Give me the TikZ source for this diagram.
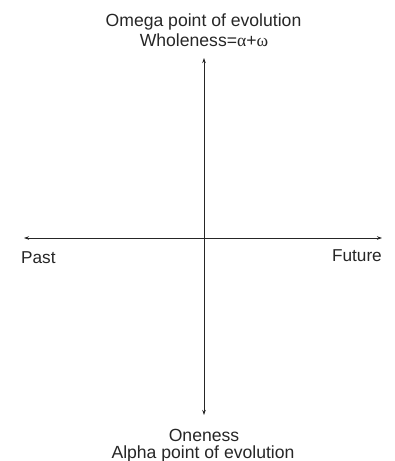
\documentclass[tikz,border=0pt]{standalone}
\usepackage{fontspec}
\setmainfont{Liberation Sans}
\newfontfamily\grkfont{Liberation Serif}
\usetikzlibrary{positioning, arrows.meta}

\begin{document}
\begin{tikzpicture}[
    x=1pt, y=-1pt,
    axis/.style={{Stealth[length=5pt, width=3.5pt]}-{Stealth[length=5pt, width=3.5pt]}, line width=0.8pt, draw=black!85},
    label/.style={font=\fontsize{17.6}{20}\selectfont, text=black!85, inner sep=0pt, anchor=base},
    side/.style={label, font=\fontsize{17.2}{20}\selectfont}
]
\useasboundingbox (0,0) rectangle (395,461);

% Axis end points
\coordinate (top) at (204,58);
\coordinate (bottom) at (204,415);
\coordinate (left) at (24,238);
\coordinate (right) at (382,238);

% Axes
\draw[axis] (bottom) -- (top);
\draw[axis] (left) -- (right);

% Labels
\node[label] (omega) at (203.5,26.5) {Omega point of evolution};
\node[label] (wholeness) at (204,46.5) {Wholeness={\grkfont α}+{\grkfont ω}};
\node[label] (oneness) at (204,441) {Oneness};
\node[label] (alpha) at (203,458.5) {Alpha point of evolution};
\node[side, anchor=base west] (past) at (21,263) {Past};
\node[side, anchor=base east] (future) at (382,261) {Future};

\end{tikzpicture}
\end{document}
